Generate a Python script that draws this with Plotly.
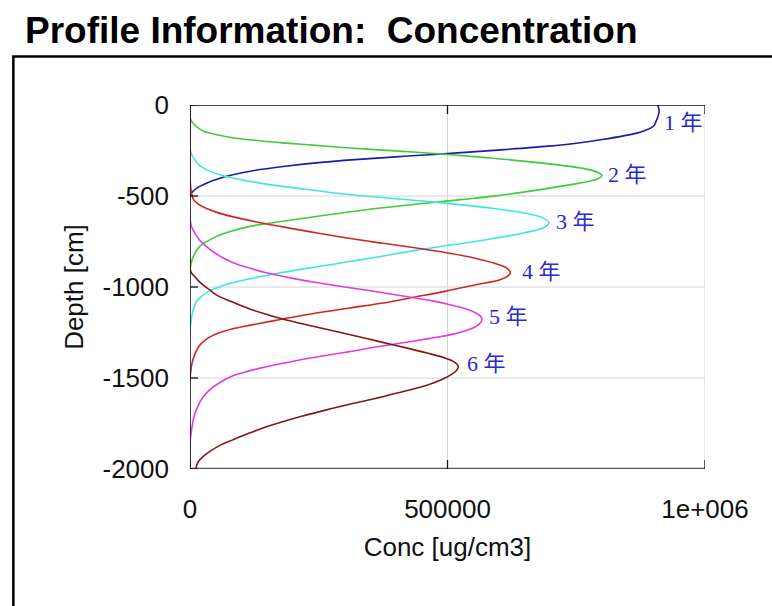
import plotly.graph_objects as go

# Concentration profiles (ug/cm3) against depth (cm), one per year
depth_1 = [0, -30, -60, -89, -110, -126, -140, -153, -190, -210, -226, -245, -263, -282, -300, -318,
           -337, -360, -382, -405, -428, -450, -474, -502, -2000]
conc_1 = [908000, 911000, 909000, 905000, 902000, 895000, 884000, 870000, 800000, 750000, 695000, 610000,
          520000, 415000, 320000, 245000, 185000, 125000, 85000, 55000, 33000, 17000, 6000, 0, 0]

depth_2 = [0, -70, -98, -120, -144, -162, -180, -194, -208, -222, -236, -260, -272, -291, -318, -346,
           -368, -388, -408, -428, -465, -502, -520, -566, -621, -667, -695, -722, -777, -850, -905, -2000]
conc_2 = [0, 0, 5500, 13000, 27000, 50000, 83000, 125000, 180000, 245000, 310000, 440000, 500000, 583000,
          680000, 758000, 790000, 800000, 790000, 758000, 680000, 585000, 525000, 370000, 225000, 117000,
          78000, 52000, 19000, 4000, 0, 0]

depth_3 = [0, -245, -300, -330, -355, -380, -401, -425, -447, -470, -492, -525, -538, -566, -593, -620,
           -648, -676, -703, -740, -768, -800, -832, -860, -887, -910, -933, -960, -990, -1024, -1060,
           -1088, -1140, -1180, -1235, -2000]
conc_3 = [0, 0, 9000, 18000, 31500, 55000, 83000, 128000, 180000, 245000, 310000, 440000, 490000, 583000,
          648000, 685000, 697000, 685000, 648000, 575000, 510000, 435000, 370000, 310000, 250000, 200000,
          155000, 108000, 66000, 36000, 19000, 11000, 5000, 2500, 0, 0]

depth_4 = [0, -340, -420, -470, -520, -545, -566, -590, -612, -640, -667, -700, -731, -760, -786, -813,
           -841, -878, -900, -920, -940, -960, -988, -1024, -1056, -1088, -1115, -1143, -1176, -1208,
           -1230, -1253, -1290, -1327, -1400, -1510, -2000]
conc_4 = [0, 0, 500, 2000, 7000, 16000, 30000, 52000, 80000, 125000, 175000, 240000, 305000, 375000,
          440000, 500000, 552000, 600000, 617000, 622000, 617000, 602000, 555000, 495000, 435000, 375000,
          310000, 245000, 180000, 120000, 82000, 55000, 30000, 17000, 5500, 0, 0]

depth_5 = [0, -612, -660, -703, -740, -777, -820, -868, -900, -923, -950, -975, -1000, -1025, -1052,
           -1075, -1098, -1120, -1143, -1160, -1180, -1200, -1217, -1240, -1263, -1285, -1308, -1330,
           -1355, -1378, -1400, -1437, -1465, -1492, -1530, -1565, -1610, -1657, -1710, -1767, -1859, -2000]
conc_5 = [0, 0, 2000, 9000, 18000, 31500, 52000, 85000, 120000, 150000, 195000, 245000, 300000, 360000,
          420000, 468000, 505000, 535000, 555000, 564000, 567000, 563000, 555000, 535000, 505000, 460000,
          410000, 360000, 310000, 260000, 215000, 150000, 110000, 80000, 55000, 38000, 24000, 15000, 8000,
          4000, 0, 0]

depth_6 = [0, -880, -920, -942, -965, -988, -1015, -1043, -1080, -1121, -1150, -1176, -1210, -1245, -1275,
           -1300, -1336, -1364, -1391, -1410, -1437, -1460, -1480, -1510, -1540, -1570, -1600, -1639, -1675,
           -1712, -1767, -1800, -1840, -1870, -1905, -1935, -1960, -1998]
conc_6 = [0, 0, 2000, 9000, 16000, 25000, 38000, 51000, 80000, 116000, 148000, 180000, 230000, 284000,
          330000, 368000, 422000, 462000, 496000, 512000, 521000, 517000, 508000, 488000, 460000, 420000,
          378000, 318000, 265000, 215000, 150000, 118000, 83000, 58000, 38000, 24000, 16000, 11000]

series_names = ["1 年", "2 年", "3 年", "4 年", "5 年", "6 年"]
series_colors = ["#1c1ca6", "#3ccc3c", "#44e4e4", "#cc2828", "#e03ce0", "#801818"]
series_depths = [depth_1, depth_2, depth_3, depth_4, depth_5, depth_6]
series_concs = [conc_1, conc_2, conc_3, conc_4, conc_5, conc_6]

# Year labels placed beside each peak
label_conc = [917000, 808000, 706000, 641000, 576000, 534000]
label_depth = [-94, -382, -639, -914, -1162, -1419]

x_ticks = [0, 500000, 1000000]
x_tick_text = ["0", "500000", "1e+006"]
y_ticks = [0, -500, -1000, -1500, -2000]
y_tick_text = ["0", "-500", "-1000", "-1500", "-2000"]

fig = go.Figure()
for name, color, d, c in zip(series_names, series_colors, series_depths, series_concs):
    fig.add_trace(go.Scatter(
        x=c, y=d, mode="lines", name=name,
        line=dict(color=color, width=1.6, shape="spline", smoothing=1.0),
        hoverinfo="skip",
    ))

for name, x, y in zip(series_names, label_conc, label_depth):
    fig.add_annotation(
        x=x, y=y, xref="x", yref="y", text=name, showarrow=False,
        xanchor="left", yanchor="middle",
        font=dict(family="Liberation Serif, Noto Sans CJK SC", size=22, color="#2a2ad0"),
    )

shapes = []
grid = dict(color="#d4d4d4", width=1)
# grid lines
for yv in y_ticks[1:-1]:
    shapes.append(dict(type="line", xref="x", yref="y", x0=0, x1=1000000, y0=yv, y1=yv,
                       line=grid, layer="below"))
for xv in x_ticks[1:]:
    shapes.append(dict(type="line", xref="x", yref="y", x0=xv, x1=xv, y0=-2000, y1=0,
                       line=grid, layer="below"))
# axis lines
shapes.append(dict(type="line", xref="x", yref="y", x0=0, x1=1000000, y0=0, y1=0,
                   line=dict(color="#111111", width=1.5)))
shapes.append(dict(type="line", xref="x", yref="y", x0=0, x1=1000000, y0=-2000, y1=-2000,
                   line=dict(color="#555555", width=2.5)))
shapes.append(dict(type="line", xref="x", yref="y", x0=0, x1=0, y0=-2000, y1=0,
                   line=dict(color="#111111", width=1.5)))
# crossing tick marks
for yv in y_ticks:
    shapes.append(dict(type="line", xref="x", yref="y", xsizemode="pixel", xanchor=0,
                       x0=-8, x1=8, y0=yv, y1=yv, line=dict(color="#111111", width=1.3)))
for xv in x_ticks:
    for ya in (0, -2000):
        shapes.append(dict(type="line", xref="x", yref="y", ysizemode="pixel", yanchor=ya,
                           y0=-9, y1=9, x0=xv, x1=xv, line=dict(color="#111111", width=1.3)))
# outer frame
shapes.append(dict(type="rect", xref="paper", yref="paper",
                   x0=-0.343, x1=1.15, y0=-0.40, y1=1.1334,
                   line=dict(color="#000000", width=2.5), fillcolor="rgba(0,0,0,0)"))

fig.update_layout(
    width=772, height=606,
    margin=dict(l=190, r=67, t=105, b=137),
    paper_bgcolor="white", plot_bgcolor="white",
    showlegend=False,
    shapes=shapes,
    font=dict(family="Liberation Sans, Arial", color="#111111", size=26),
    title=dict(
        text="<b>Profile Information:  Concentration</b>",
        xref="container", yref="container", x=25 / 772, xanchor="left",
        y=1 - 30 / 606, yanchor="middle",
        font=dict(family="Liberation Sans, Arial", size=37, color="#000000"),
    ),
    xaxis=dict(
        range=[0, 1000000], tickvals=x_ticks, ticktext=x_tick_text,
        showgrid=False, zeroline=False, showline=False, ticks="",
        ticklabelstandoff=22,
        title=dict(text="Conc [ug/cm3]", standoff=14, font=dict(size=26)),
        tickfont=dict(size=26), fixedrange=True,
    ),
    yaxis=dict(
        range=[-2000, 0], tickvals=y_ticks, ticktext=y_tick_text,
        showgrid=False, zeroline=False, showline=False, ticks="",
        ticklabelstandoff=20,
        title=dict(text="Depth [cm]", standoff=11, font=dict(size=26)),
        tickfont=dict(size=26), fixedrange=True,
    ),
)

fig.write_html("out.html")
